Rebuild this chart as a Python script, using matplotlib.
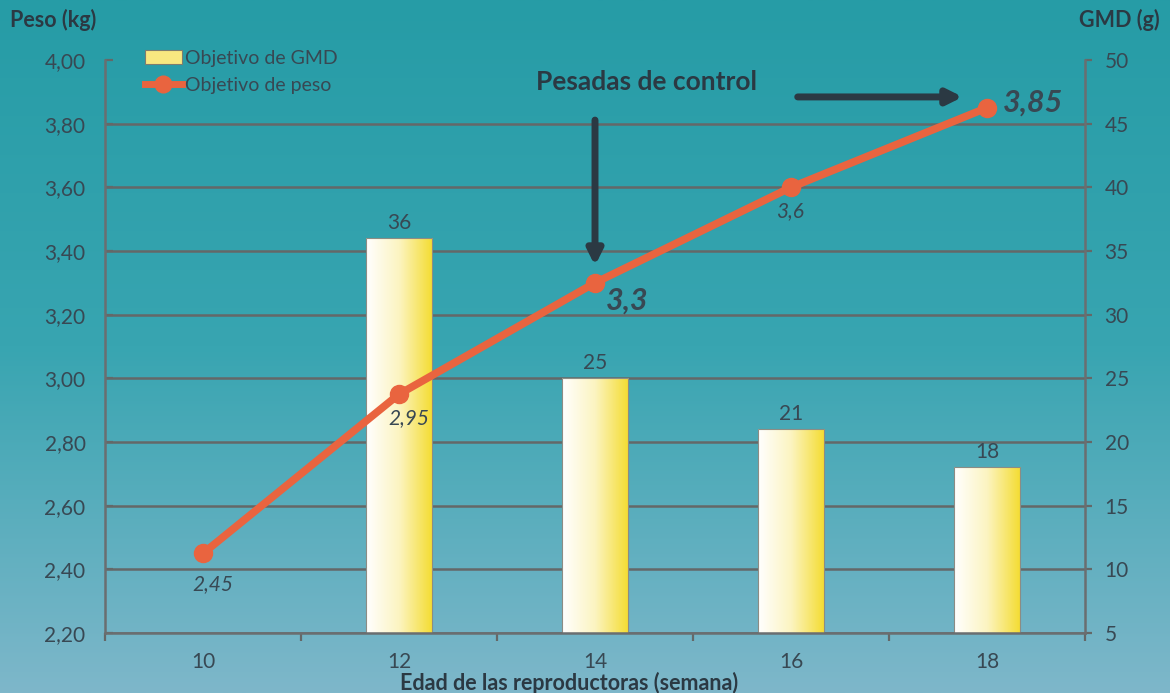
"""
Objetivo de peso y GMD de las reproductoras
"""
import matplotlib.pyplot as plt
import numpy as np
from matplotlib.colors import LinearSegmentedColormap
from matplotlib.lines import Line2D
from matplotlib.patches import Patch

# Datos
semanas = ["10", "12", "14", "16", "18"]
peso = [2.45, 2.95, 3.3, 3.6, 3.85]
peso_txt = ["2,45", "2,95", "3,3", "3,6", "3,85"]
gmd_semanas = ["12", "14", "16", "18"]
gmd = [36, 25, 21, 18]
peso_ticks = [2.2, 2.4, 2.6, 2.8, 3.0, 3.2, 3.4, 3.6, 3.8, 4.0]
gmd_ticks = [5, 10, 15, 20, 25, 30, 35, 40, 45, 50]

plt.rcParams["font.family"] = ["Lato", "DejaVu Sans"]
oscuro = "#2b3943"
texto = "#384853"
gris = "#646868"
naranja = "#e9643f"

fig = plt.figure(figsize=(11.7, 6.93), dpi=100)

# Fondo degradado (turquesa arriba, mas claro abajo)
fondo = fig.add_axes([0, 0, 1, 1], zorder=-10)
t = np.linspace(0, 1, 256)[:, None]
arriba = np.array([38, 156, 166]) / 255
medio = np.array([56, 165, 177]) / 255
abajo = np.array([126, 183, 202]) / 255
col = np.where(t < 0.5, arriba + (medio - arriba) * t / 0.5,
               medio + (abajo - medio) * (t - 0.5) / 0.5)
fondo.imshow(col[:, None, :], aspect="auto", extent=[0, 1, 0, 1])
fondo.axis("off")

# Ejes: ax = peso (izquierda, linea), ax2 = GMD (derecha, barras)
ax = fig.add_axes([0.0897, 0.0866, 0.8377, 0.8268])
ax2 = ax.twinx()
ax.set_zorder(3)
ax2.set_zorder(2)
ax.patch.set_visible(False)
ax2.patch.set_visible(False)

x = np.arange(len(semanas))
xb = [semanas.index(s) for s in gmd_semanas]

# Lineas de referencia (detras de las barras)
ax2.hlines(gmd_ticks[:-1], -0.5, len(semanas) - 0.5, color=gris, lw=1.8, zorder=1)

# Barras con degradado blanco -> amarillo
barras = ax2.bar(xb, np.array(gmd) - 5, bottom=5, width=0.34, color="none",
                 edgecolor="#8c8c84", lw=0.8, zorder=3)
cmap = LinearSegmentedColormap.from_list("gy", ["#ffffff", "#fcf4c0", "#f4dc30"])
grad = np.linspace(0, 1, 128)[None, :]
for b in barras:
    x0, y0 = b.get_x(), b.get_y()
    im = ax2.imshow(grad, cmap=cmap, aspect="auto", zorder=2,
                    extent=[x0, x0 + b.get_width(), y0, y0 + b.get_height()])
    im.set_clip_path(b)
ax2.bar_label(barras, labels=[str(v) for v in gmd], padding=4, fontsize=15, color=texto)

# Linea de peso
ax.plot(x, peso, color=naranja, lw=5.5, marker="o", ms=13, zorder=5)
offsets = [(7, -22), (7, -17), (23, -13), (-1, -17), (33, 4)]
for i, txt in enumerate(peso_txt):
    grande = txt in ("3,3", "3,85")
    ax.annotate(txt, (x[i], peso[i]), xytext=offsets[i], textcoords="offset points",
                ha="center", va="center", style="italic", color=texto,
                fontsize=22 if grande else 15, weight="bold" if grande else "normal")

# Flechas
ax.annotate("", xy=(2, 3.345), xytext=(2, 3.82),
            arrowprops=dict(arrowstyle="-|>", lw=5, color=oscuro, mutation_scale=22))
ax.annotate("", xy=(3.89, 3.884), xytext=(3.02, 3.884),
            arrowprops=dict(arrowstyle="-|>", lw=5, color=oscuro, mutation_scale=22))
fig.text(647 / 1170, 1 - 82 / 693, "Pesadas de control", ha="center", va="center",
         fontsize=19, weight="bold", color=oscuro)

# Escalas
ax.set_xlim(-0.5, len(semanas) - 0.5)
ax.set_ylim(2.2, 4.0)
ax2.set_ylim(5, 50)
ax.set_yticks(peso_ticks, [f"{v:.2f}".replace(".", ",") for v in peso_ticks])
ax2.set_yticks(gmd_ticks, [str(v) for v in gmd_ticks])
ax.set_xticks(x, semanas)
ax.set_xticks(np.arange(len(semanas) + 1) - 0.5, minor=True)
ax.tick_params(axis="x", which="major", length=0, pad=14, labelsize=15, labelcolor=texto)
ax.tick_params(axis="x", which="minor", direction="out", length=6, width=1.6, color=gris)
ax.tick_params(axis="y", direction="in", length=6, width=1.6, color=gris, pad=14,
               labelsize=15, labelcolor=texto)
ax2.tick_params(axis="y", direction="out", length=5, width=1.6, color=gris, pad=9,
                labelsize=15, labelcolor=texto)

ax.spines["top"].set_visible(False)
for lado in ["left", "right", "bottom"]:
    ax.spines[lado].set_color("#6a6e70")
    ax.spines[lado].set_linewidth(1.8)
for s in ax2.spines.values():
    s.set_visible(False)

# Titulos de ejes
fig.text(10 / 1170, 1 - 20 / 693, "Peso (kg)", ha="left", va="center",
         fontsize=15.5, weight="bold", color=oscuro)
fig.text(1160 / 1170, 1 - 20 / 693, "GMD (g)", ha="right", va="center",
         fontsize=15.5, weight="bold", color=oscuro)
fig.text(569 / 1170, 1 - 683 / 693, "Edad de las reproductoras (semana)", ha="center",
         va="center", fontsize=15.5, weight="bold", color=oscuro)

# Leyenda
handles = [Patch(facecolor="#f8e880", edgecolor="#7d7d70", lw=0.8),
           Line2D([], [], color=naranja, lw=5, marker="o", ms=12)]
ax.legend(handles, ["Objetivo de GMD", "Objetivo de peso"], loc="upper left",
          bbox_to_anchor=(145 / 1170, 1 - 50 / 693), bbox_transform=fig.transFigure,
          frameon=False, fontsize=14, labelcolor=texto, handlelength=1.9,
          handletextpad=0.15, labelspacing=0.5, borderpad=0, borderaxespad=0)

fig.savefig("out.png", dpi=100)
